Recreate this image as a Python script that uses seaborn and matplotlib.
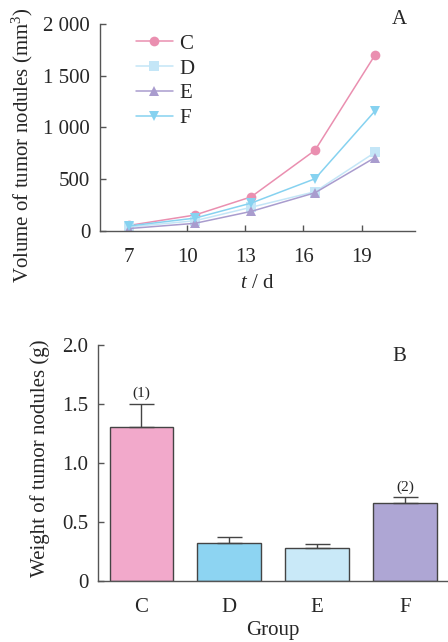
import numpy as np
import pandas as pd
import seaborn as sns
import matplotlib.pyplot as plt

# Data
days = [7, 10.4, 13.3, 16.6, 19.7]
vol_c = [55, 155, 330, 780, 1700]
vol_d = [40, 100, 230, 380, 760]
vol_e = [25, 75, 190, 370, 710]
vol_f = [50, 125, 270, 505, 1160]

groups = ["C", "D", "E", "F"]
weight = [1.30, 0.32, 0.28, 0.66]
weight_err = [0.20, 0.05, 0.03, 0.05]
sig_labels = ["(1)", "", "", "(2)"]

line_colors = {"C": "#ea8fb0", "D": "#c4e6f7", "E": "#a99cce", "F": "#86d2f0"}
bar_colors = ["#f2a9cb", "#8dd4f2", "#c9e9f8", "#aea6d4"]
markers = {"C": "o", "D": "s", "E": "^", "F": "v"}

sns.set_theme(style="ticks")
plt.rcParams["font.family"] = ["Liberation Serif", "DejaVu Serif"]
plt.rcParams["mathtext.fontset"] = "custom"
plt.rcParams["mathtext.it"] = "Liberation Serif:italic"
plt.rcParams["mathtext.rm"] = "Liberation Serif"
axis_color = "#555555"
fs = 15

fig = plt.figure(figsize=(4.48, 6.42), dpi=100)
ax1 = fig.add_axes([0.223, 0.640, 0.703, 0.323])
ax2 = fig.add_axes([0.219, 0.095, 0.781, 0.368])

# Panel A: growth curves
long_df = pd.DataFrame({
    "day": days * 4,
    "volume": vol_c + vol_d + vol_e + vol_f,
    "group": sum([[g] * len(days) for g in groups], []),
})
sns.lineplot(data=long_df, x="day", y="volume", hue="group", style="group",
             palette=line_colors, markers=markers, dashes=False, markersize=7,
             markeredgewidth=0, linewidth=1.1, ax=ax1)
ax1.set_xlim(5.5, 21.75)
ax1.set_ylim(0, 2000)
ax1.set_xticks([7, 10, 13, 16, 19])
ax1.set_yticks([0, 500, 1000, 1500, 2000])
ax1.set_yticklabels(["0", "500", "1 000", "1 500", "2 000"])
ax1.set_xlabel("$t$ / d", fontsize=fs, labelpad=5)
ax1.set_ylabel("Volume of tumor nodules (mm$^3$)", fontsize=fs)
ax1.yaxis.set_label_coords(-0.206, 0.415)
ax1.text(0.952, 1.02, "A", transform=ax1.transAxes, fontsize=fs, ha="center", va="center")
leg = ax1.legend(loc="upper left", bbox_to_anchor=(0.08, 1.0), frameon=False,
                 fontsize=fs, handlelength=1.8, handletextpad=0.3,
                 labelspacing=0.25, borderaxespad=0.1)
for h in leg.legend_handles:
    h.set_markeredgewidth(0)

# Panel B: final weights
bar_df = pd.DataFrame({"group": groups, "weight": weight})
sns.barplot(data=bar_df, x="group", y="weight", hue="group", palette=bar_colors,
            saturation=1, legend=False, width=0.72, edgecolor="#444444",
            linewidth=1.0, ax=ax2)
ax2.errorbar(range(len(groups)), weight,
             yerr=[np.zeros(len(groups)), weight_err], fmt="none",
             ecolor="#444444", elinewidth=1.0, capsize=9, capthick=1.0)
for i, lab in enumerate(sig_labels):
    if lab:
        ax2.text(i, weight[i] + weight_err[i] + 0.03, lab, ha="center", va="bottom", fontsize=11)
ax2.set_xlim(-0.49, 3.49)
ax2.set_ylim(0, 2.0)
ax2.set_yticks([0, 0.5, 1.0, 1.5, 2.0])
ax2.set_yticklabels(["0", "0.5", "1.0", "1.5", "2.0"])
ax2.set_xlabel("Group", fontsize=fs, labelpad=3)
ax2.set_ylabel("Weight of tumor nodules (g)", fontsize=fs)
ax2.yaxis.set_label_coords(-0.137, 0.52)
ax2.text(0.86, 0.99, "B", transform=ax2.transAxes, fontsize=fs, ha="center", va="top")

for ax in (ax1, ax2):
    sns.despine(ax=ax)
    for s in ("left", "bottom"):
        ax.spines[s].set_color(axis_color)
        ax.spines[s].set_linewidth(1.0)
    ax.tick_params(direction="in", length=4, width=1.0, color=axis_color,
                   labelsize=fs)
    ax.tick_params(axis="y", pad=7)
    ax.tick_params(axis="x", pad=12)

fig.savefig("out.png", dpi=100)
